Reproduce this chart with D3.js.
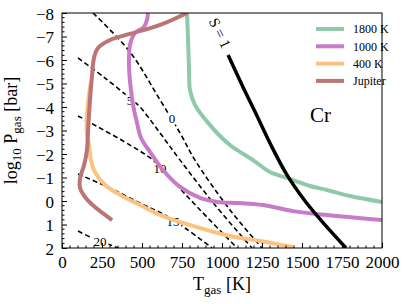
<!DOCTYPE html>
<html>
<head>
<meta charset="utf-8">
<script src="https://cdn.jsdelivr.net/npm/d3@7"></script>
<style>
body { margin: 0; background: #fff; }
text { font-family: "Liberation Serif", "DejaVu Serif", serif; }
</style>
</head>
<body>
<div class="chart"></div>
<script>
var margin = {top: 13, right: 25, bottom: 56, left: 62}
var width = 407 - margin.left - margin.right;
var height = 304 - margin.top - margin.bottom;

// tick labels
var xTickValues = [0, 250, 500, 750, 1000, 1250, 1500, 1750, 2000];
var yTickValues = [-8, -7, -6, -5, -4, -3, -2, -1, 0, 1, 2];

// profiles (T in K, log10 P in bar)
var t1800 = [781, 788, 794, 800, 831, 925, 1050, 1194, 1300, 1406, 1550, 1656, 1800, 2000];
var p1800 = [-8, -6.85, -5.57, -4.72, -4.09, -3.23, -2.38, -1.74, -1.23, -0.98, -0.64, -0.47, -0.21, 0.04];

var t1000 = [537, 531, 512, 456, 425, 419, 431, 444, 469, 494, 550, 631, 738, 863, 969, 1113, 1256, 1444, 1656, 2000];
var p1000 = [-8, -7.7, -7.4, -7.15, -6.64, -5.7, -4.72, -4.09, -3.32, -2.68, -2.09, -1.32, -0.6, -0.13, 0.04, 0.09, 0.17, 0.43, 0.6, 0.81];

var t400 = [181, 169, 156, 156, 169, 181, 206, 269, 363, 488, 631, 844, 1050, 1238, 1444];
var p400 = [-5.06, -4.51, -3.66, -2.89, -2.38, -1.74, -1.23, -0.68, -0.26, 0.17, 0.64, 1.11, 1.49, 1.7, 1.96];

var tJup = [781, 613, 425, 300, 225, 200, 188, 175, 163, 156, 138, 113, 113, 144, 206, 313];
var pJup = [-8, -7.49, -7.11, -6.85, -6.51, -6.09, -5.36, -4.3, -3.02, -2.17, -1.53, -0.98, -0.55, -0.17, 0.26, 0.81];

// S = 1 curve
var tS1 = [1038, 1131, 1219, 1306, 1406, 1519, 1644, 1775];
var pS1 = [-6.21, -4.85, -3.62, -2.38, -1.11, 0, 1.02, 2.0];

// dashed contours
var t0 = [194, 425, 613, 738, 831, 1050, 1250];
var p0 = [-8, -6.34, -4.3, -2.89, -1.74, 0.38, 2];
var t5 = [100, 269, 438, 488, 613, 738, 956, 1188];
var p5 = [-6.09, -5.23, -4.3, -4.0, -2.89, -1.74, 0.17, 2];
var t10 = [100, 425, 569, 675, 863, 1094];
var p10 = [-3.62, -2.38, -1.74, -0.98, 0.38, 2];
var t15 = [100, 300, 488, 631, 769, 938];
var p15 = [-1.15, -0.55, 0.09, 0.55, 1.15, 2];
var t20 = [100, 188, 288, 350];
var p20 = [1.28, 1.57, 1.83, 2];

var contourLabels = ['0', '5', '10', '15', '20'];
var contourLabelT = [688, 425, 613, 694, 238];
var contourLabelP = [-3.53, -4.3, -1.4, 0.85, 1.7];

var seriesNames = ['1800 K', '1000 K', '400 K', 'Jupiter'];
var seriesColors = ['#8fc9a8', '#c67cc6', '#fdc27f', '#bb7575'];

var svg = d3.select('.chart')
	.append('svg')
		.attr('width', width + margin.left + margin.right)
		.attr('height', height + margin.top + margin.bottom)
	.append('g')
		.attr('transform', `translate(${margin.left}, ${margin.top})`)

var xScale = d3.scaleLinear().domain([0, 2000]).range([0, width]);
var yScale = d3.scaleLinear().domain([-8, 2]).range([0, height]);

svg.append('clipPath').attr('id', 'clip')
	.append('rect').attr('width', width).attr('height', height);

var plot = svg.append('g').attr('clip-path', 'url(#clip)');

var line = d3.line()
	.x(d => xScale(d[0]))
	.y(d => yScale(d[1]))
	.curve(d3.curveCatmullRom.alpha(0.5));

function pairs(t, p) { return t.map((v, i) => [v, p[i]]); }

// dashed contours
var contours = [pairs(t0, p0), pairs(t5, p5), pairs(t10, p10), pairs(t15, p15), pairs(t20, p20)];
plot.selectAll('.contour')
	.data(contours)
	.enter()
	.append('path')
	.attr('class', 'contour')
	.attr('d', line)
	.style('fill', 'none')
	.style('stroke', '#000')
	.style('stroke-width', 1.6)
	.style('stroke-dasharray', '5,3');

plot.selectAll('.clabel')
	.data(contourLabels)
	.enter()
	.append('text')
	.attr('class', 'clabel')
	.attr('x', (d, i) => xScale(contourLabelT[i]))
	.attr('y', (d, i) => yScale(contourLabelP[i]))
	.attr('dy', '0.35em')
	.attr('text-anchor', 'middle')
	.style('font-size', '13px')
	.style('paint-order', 'stroke')
	.style('stroke', '#fff')
	.style('stroke-width', 5)
	.text(d => d);

// profiles
var profiles = [pairs(t1800, p1800), pairs(t1000, p1000), pairs(t400, p400), pairs(tJup, pJup)];
plot.selectAll('.profile')
	.data(profiles)
	.enter()
	.append('path')
	.attr('class', 'profile')
	.attr('d', line)
	.style('fill', 'none')
	.style('stroke', (d, i) => seriesColors[i])
	.style('stroke-width', 4)
	.style('stroke-linejoin', 'round');

// S = 1
plot.append('path')
	.datum(pairs(tS1, pS1))
	.attr('d', line)
	.style('fill', 'none')
	.style('stroke', '#000')
	.style('stroke-width', 3.5);

plot.append('text')
	.attr('transform', `translate(${xScale(988)}, ${yScale(-7.15)}) rotate(64)`)
	.attr('text-anchor', 'middle')
	.attr('dy', '0.35em')
	.style('font-size', '15px')
	.text('S = 1');

// axes
var xAxis = d3.axisBottom(xScale).tickValues(xTickValues).tickSize(-5).tickPadding(8).tickFormat(d3.format('d'));
var yAxis = d3.axisLeft(yScale).tickValues(yTickValues).tickSize(-5).tickPadding(8).tickFormat(d3.format('d'));

var gx = svg.append('g').attr('transform', `translate(0, ${height})`).call(xAxis);
var gy = svg.append('g').call(yAxis);
[gx, gy].forEach(g => {
	g.select('.domain').remove();
	g.selectAll('text').style('font-size', '17px').style('font-family', '"Liberation Serif", serif').attr('fill', '#000');
});
gy.selectAll('text').attr('dy', '0.36em');

// minor ticks
svg.append('g').selectAll('line')
	.data(d3.range(0, 2001, 50).filter(v => v % 250 !== 0))
	.enter().append('line')
	.attr('x1', d => xScale(d)).attr('x2', d => xScale(d))
	.attr('y1', height).attr('y2', height - 2.5)
	.style('stroke', '#000');
svg.append('g').selectAll('line')
	.data(d3.range(-8, 2.001, 0.2).filter(v => Math.abs(v - Math.round(v)) > 0.01))
	.enter().append('line')
	.attr('y1', d => yScale(d)).attr('y2', d => yScale(d))
	.attr('x1', 0).attr('x2', 2.5)
	.style('stroke', '#000');

svg.append('rect')
	.attr('width', width)
	.attr('height', height)
	.style('fill', 'none')
	.style('stroke', '#000')
	.style('stroke-width', 1);

// axis labels
var xl = svg.append('text')
	.attr('x', width / 2)
	.attr('y', height + 42)
	.attr('text-anchor', 'middle')
	.style('font-size', '18px');
xl.append('tspan').text('T');
xl.append('tspan').attr('dy', 4).style('font-size', '13px').text('gas');
xl.append('tspan').attr('dy', -4).text(' [K]');

var yl = svg.append('text')
	.attr('transform', `translate(-45, ${height / 2}) rotate(-90)`)
	.attr('text-anchor', 'middle')
	.style('font-size', '18px');
yl.append('tspan').text('log');
yl.append('tspan').attr('dy', 4).style('font-size', '13px').text('10');
yl.append('tspan').attr('dy', -4).text(' P');
yl.append('tspan').attr('dy', 4).style('font-size', '13px').text('gas');
yl.append('tspan').attr('dy', -4).text(' [bar]');

// legend
var legend = svg.append('g').attr('transform', `translate(${width - 148 + 82}, 16)`);
var item = legend.selectAll('g')
	.data(seriesNames)
	.enter().append('g')
	.attr('transform', (d, i) => `translate(0, ${i * 17.3})`);
item.append('line')
	.attr('x1', 0).attr('x2', 28)
	.style('stroke', (d, i) => seriesColors[i])
	.style('stroke-width', 4);
item.append('text')
	.attr('x', 37)
	.attr('dy', '0.35em')
	.style('font-size', '12px')
	.text(d => d);

svg.append('text')
	.attr('x', xScale(1550))
	.attr('y', yScale(-3.35))
	.style('font-size', '21px')
	.text('Cr');
</script>
</body>
</html>
